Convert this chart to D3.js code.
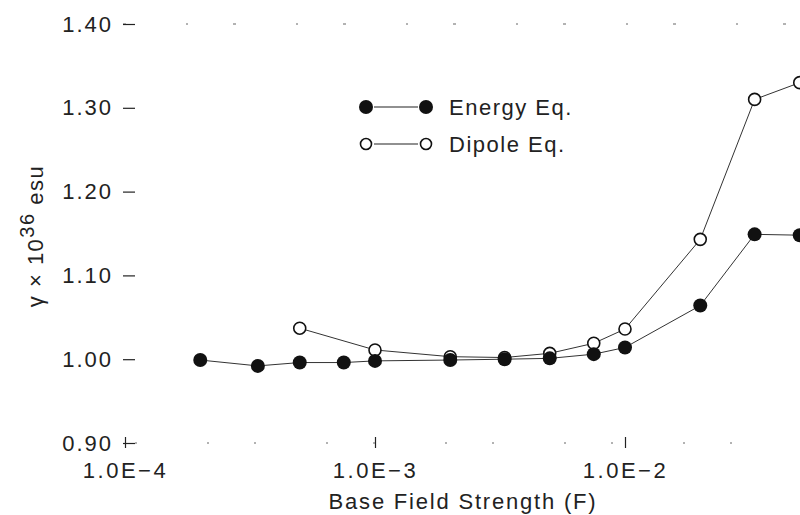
<!DOCTYPE html>
<html>
<head>
<meta charset="utf-8">
<script src="https://cdn.jsdelivr.net/npm/d3@7"></script>
<style>
  body { margin: 0; background: #fff; }
  svg text { font-family: "Liberation Sans", Arial, sans-serif; fill: #222; }
</style>
</head>
<body>
<div id="chart"></div>
<script>
// data
var energyX = [2e-4, 3.4e-4, 5e-4, 7.5e-4, 1e-3, 2e-3, 3.3e-3, 5e-3, 7.5e-3, 1e-2, 2e-2, 3.3e-2, 5e-2];
var energyY = [0.999, 0.992, 0.996, 0.996, 0.998, 0.999, 1.000, 1.001, 1.006, 1.014, 1.064, 1.149, 1.148];

var dipoleX = [5e-4, 1e-3, 2e-3, 3.3e-3, 5e-3, 7.5e-3, 1e-2, 2e-2, 3.3e-2, 5e-2];
var dipoleY = [1.037, 1.011, 1.003, 1.002, 1.007, 1.019, 1.036, 1.143, 1.310, 1.330];

var yTicks = [0.90, 1.00, 1.10, 1.20, 1.30, 1.40];
var yTickLabels = ["0.90", "1.00", "1.10", "1.20", "1.30", "1.40"];
var xTicks = [1e-4, 1e-3, 1e-2];
var xTickLabels = ["1.0E\u22124", "1.0E\u22123", "1.0E\u22122"];

var seriesNames = ["Energy Eq.", "Dipole Eq."];

function chart() {
    var svgWidth = 800, svgHeight = 515;

    var svg = d3.select("#chart")
        .append("svg")
        .attr("width", svgWidth)
        .attr("height", svgHeight);

    // one decade is about 250px, the figure is cut off on the right
    var xScale = d3.scaleLog()
        .domain([1e-4, 1e-1])
        .range([125, 875]);

    var yScale = d3.scaleLinear()
        .domain([0.90, 1.40])
        .range([443, 24]);

    // faded frame lines (top and bottom), as in the scan
    svg.append("line")
        .attr("x1", 123).attr("x2", 800)
        .attr("y1", yScale(1.40)).attr("y2", yScale(1.40))
        .attr("stroke", "#666")
        .attr("stroke-width", 1)
        .attr("stroke-dasharray", "3,60,2,45");

    svg.append("line")
        .attr("x1", 135).attr("x2", 800)
        .attr("y1", yScale(0.90)).attr("y2", yScale(0.90))
        .attr("stroke", "#666")
        .attr("stroke-width", 1)
        .attr("stroke-dasharray", "2,70,2,45");

    // y axis: ticks only, the axis line is lost in the scan
    var yAxis = d3.axisLeft(yScale)
        .tickValues(yTicks)
        .tickSize(-12)
        .tickPadding(22)
        .tickFormat((d, i) => yTickLabels[i]);

    var yg = svg.append("g")
        .attr("transform", "translate(123,0)")
        .call(yAxis);
    yg.select(".domain").remove();
    yg.selectAll(".tick line").attr("stroke", "#222").attr("stroke-width", 1.2);
    yg.selectAll(".tick text")
        .attr("font-size", 22)
        .attr("letter-spacing", 2)
        .attr("fill", "#222")
        .attr("x", -10);

    // x axis
    var xAxis = d3.axisBottom(xScale)
        .tickValues(xTicks)
        .tickSize(0)
        .tickPadding(19)
        .tickFormat((d, i) => xTickLabels[i]);

    var xg = svg.append("g")
        .attr("transform", `translate(0, ${yScale(0.90)})`)
        .call(xAxis);
    xg.select(".domain").remove();
    xg.selectAll(".tick text")
        .attr("font-size", 22)
        .attr("letter-spacing", 2.5)
        .attr("fill", "#222");
    xg.selectAll(".tick")
        .append("line")
        .attr("y1", -6).attr("y2", 5)
        .attr("stroke", "#222")
        .attr("stroke-width", 1.2);

    // axis titles
    svg.append("text")
        .attr("x", 463)
        .attr("y", 509)
        .attr("text-anchor", "middle")
        .attr("font-size", 22)
        .attr("letter-spacing", 1.8)
        .text("Base Field Strength (F)");

    var yTitle = svg.append("text")
        .attr("transform", "translate(43,236) rotate(-90)")
        .attr("text-anchor", "middle")
        .attr("font-size", 22)
        .attr("letter-spacing", 1.5);
    yTitle.append("tspan").text("\u03b3 \u00d7 10");
    yTitle.append("tspan").attr("dy", -9).attr("font-size", 20).text("36");
    yTitle.append("tspan").attr("dy", 9).text(" esu");

    // series
    var energy = energyX.map((x, i) => ({x: x, y: energyY[i]}));
    var dipole = dipoleX.map((x, i) => ({x: x, y: dipoleY[i]}));

    var line = d3.line()
        .x(d => xScale(d.x))
        .y(d => yScale(d.y));

    svg.append("path")
        .datum(dipole)
        .attr("d", line)
        .attr("fill", "none")
        .attr("stroke", "#333")
        .attr("stroke-width", 1);

    svg.append("path")
        .datum(energy)
        .attr("d", line)
        .attr("fill", "none")
        .attr("stroke", "#333")
        .attr("stroke-width", 1);

    svg.append("g")
        .selectAll("circle")
        .data(dipole)
        .enter()
        .append("circle")
        .attr("cx", d => xScale(d.x))
        .attr("cy", d => yScale(d.y))
        .attr("r", 6)
        .attr("fill", "#fff")
        .attr("stroke", "#111")
        .attr("stroke-width", 1.6);

    svg.append("g")
        .selectAll("circle")
        .data(energy)
        .enter()
        .append("circle")
        .attr("cx", d => xScale(d.x))
        .attr("cy", d => yScale(d.y))
        .attr("r", 7)
        .attr("fill", "#111");

    // legend
    var legend = svg.append("g").attr("transform", "translate(366,107)");
    seriesNames.forEach(function(name, i) {
        var g = legend.append("g").attr("transform", `translate(0, ${i * 37})`);
        g.append("line")
            .attr("x1", 8).attr("x2", 52)
            .attr("stroke", "#222").attr("stroke-width", 1.2);
        [0, 60].forEach(function(cx) {
            g.append("circle")
                .attr("cx", cx)
                .attr("r", i === 0 ? 7 : 5.5)
                .attr("fill", i === 0 ? "#111" : "#fff")
                .attr("stroke", "#111")
                .attr("stroke-width", i === 0 ? 0 : 1.6);
        });
        g.append("text")
            .attr("x", 83)
            .attr("y", 8)
            .attr("font-size", 22)
            .attr("letter-spacing", 1.5)
            .text(name);
    });
}

chart();
</script>
</body>
</html>
